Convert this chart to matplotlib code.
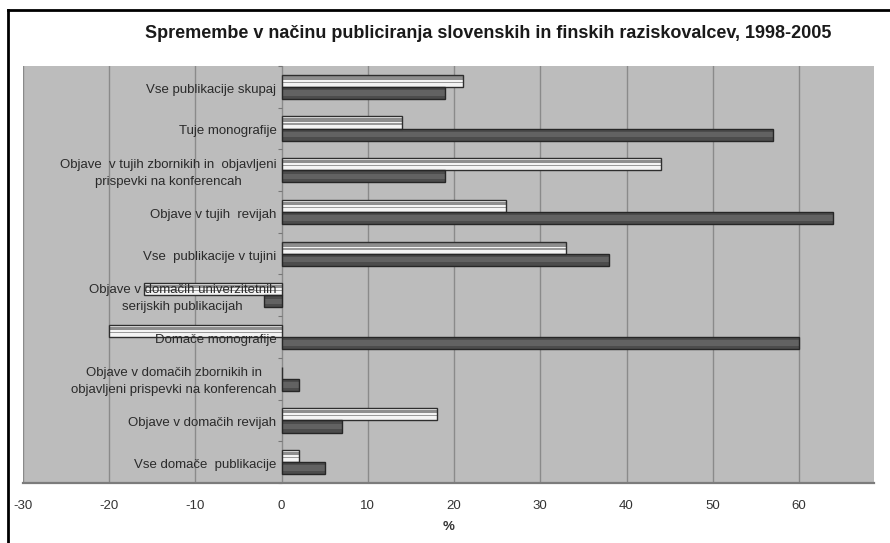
import matplotlib
matplotlib.use('Agg')
import matplotlib.pyplot as plt
import numpy as np

plt.rcParams['font.family'] = ['Liberation Sans', 'DejaVu Sans']

categories = [
    'Vse publikacije skupaj',
    'Tuje monografije',
    'Objave  v tujih zbornikih in  objavljeni\nprispevki na konferencah',
    'Objave v tujih  revijah',
    'Vse  publikacije v tujini',
    'Objave v domačih univerzitetnih\nserijskih publikacijah',
    'Domače monografije',
    'Objave v domačih zbornikih in\nobjavljeni prispevki na konferencah',
    'Objave v domačih revijah',
    'Vse domače  publikacije',
]
light_vals = [21, 14, 44, 26, 33, -16, -20, 0, 18, 2]
dark_vals = [19, 57, 19, 64, 38, -2, 60, 2, 7, 5]
xticks = [-30, -20, -10, 0, 10, 20, 30, 40, 50, 60]
title = 'Spremembe v načinu publiciranja slovenskih in finskih raziskovalcev, 1998-2005'

fig = plt.figure(figsize=(8.9, 5.43), dpi=100)
ax = fig.add_axes([23 / 890, 60 / 543, 851 / 890, 417 / 543])
ax.set_facecolor('#bcbcbc')

y = np.arange(len(categories))
h = 0.29

# light series: white bar with grey stripes
lt = y - h / 2
ax.barh(lt, light_vals, height=h, color='#f4f4f4', edgecolor='none', zorder=3)
ax.barh(lt - h * 0.22, light_vals, height=h * 0.28, color='#8e8e8e', edgecolor='none', zorder=3)
ax.barh(lt + h * 0.12, light_vals, height=h * 0.1, color='#9a9a9a', edgecolor='none', zorder=3)
ax.barh(lt, light_vals, height=h, color='none', edgecolor='#2e2e2e', linewidth=1.0, zorder=4)

# dark series
dk = y + h / 2
ax.barh(dk, dark_vals, height=h, color='#4c4c4c', edgecolor='none', zorder=3)
ax.barh(dk, dark_vals, height=h * 0.45, color='#626262', edgecolor='none', zorder=3)
ax.barh(dk, dark_vals, height=h, color='none', edgecolor='#262626', linewidth=1.0, zorder=4)

ax.set_xlim(-30, 68.7)
ax.set_ylim(len(categories) - 0.5, -0.5)
ax.set_xticks(xticks)
ax.set_xticklabels([str(v) for v in xticks], fontsize=9.5, color='#333333')
ax.tick_params(axis='x', length=0, pad=12)
ax.grid(axis='x', color='#8a8a8a', linewidth=1.0, zorder=1)

ax.spines['left'].set_position(('data', 0))
ax.spines['left'].set_visible(False)
for s in ['top', 'right']:
    ax.spines[s].set_visible(False)
ax.spines['bottom'].set_color('#7c7c7c')
ax.spines['bottom'].set_linewidth(1.6)

# category labels drawn over the bars, right-aligned at the zero line
ax.set_yticks(y)
ax.set_yticklabels([])
for yi, lab in zip(y, categories):
    ax.text(-0.6, yi + 0.07, lab, ha='right', va='center', multialignment='center',
            linespacing=1.55, fontsize=9.5, color='#2a2a2a', zorder=6)
ax.set_yticks(np.arange(len(categories) + 1) - 0.5, minor=True)
ax.tick_params(axis='y', which='major', length=0)
ax.tick_params(axis='y', which='minor', length=3, color='#777777', width=0.8)

ax.set_xlabel('%', fontsize=9.5, color='#333333', fontweight='bold', labelpad=7)

fig.text(488 / 890, 1 - 33 / 543, title, ha='center', va='center',
         fontsize=13, fontweight='bold', color='#1a1a1a')

# outer frame (top and left visible in the crop)
fig.add_artist(plt.Line2D([8 / 890, 8 / 890], [0, 1 - 10 / 543], transform=fig.transFigure,
                          color='black', linewidth=2))
fig.add_artist(plt.Line2D([8 / 890, 1], [1 - 10 / 543, 1 - 10 / 543], transform=fig.transFigure,
                          color='black', linewidth=2))

fig.savefig('out.png', dpi=100)
